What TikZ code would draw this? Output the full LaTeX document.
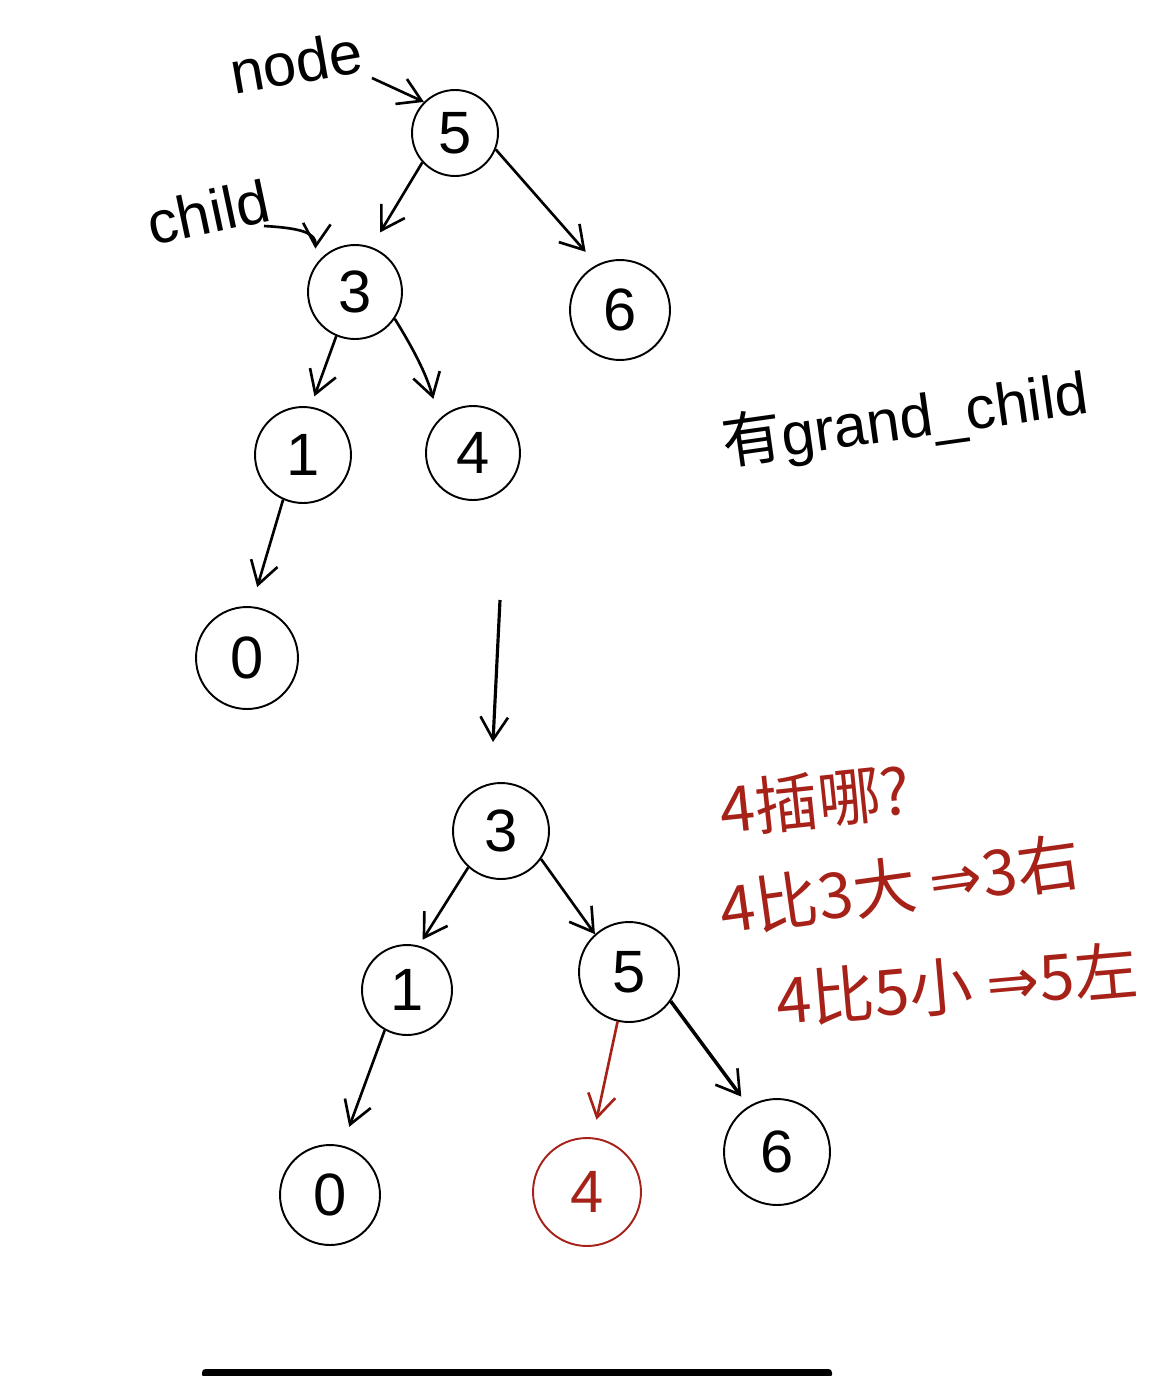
\documentclass[tikz,border=0pt]{standalone}
\usepackage{fontspec}
\setmainfont{Liberation Sans}
\newfontfamily\cjk{Noto Sans CJK SC}
\newfontfamily\symb{DejaVu Sans}
\usepackage{xcolor}
\definecolor{inkred}{RGB}{166,34,24}
\usetikzlibrary{arrows.meta}

\begin{document}
\begin{tikzpicture}[x=0.02cm, y=-0.02cm,
    vert/.style={circle, draw, line width=1.1pt, inner sep=0pt,
      minimum size=#1, font=\fontsize{34}{34}\selectfont},
    vert/.default=1.9cm,
    link/.style={line width=1.5pt,
      -{Straight Barb[length=4.5mm, width=5.5mm, line width=1.5pt]}},
    note/.style={inner sep=0pt, font=\fontsize{34}{40}\selectfont},
    rednote/.style={inner sep=0pt, text=inkred,
      font=\cjk\fontsize{36}{40}\selectfont}]
  \fill[white] (0,0) rectangle (1155,1376);
  \useasboundingbox (0,0) rectangle (1155,1376);

  % tree before
  \node[vert=1.72cm] (t5) at (455,133) {5};
  \node[vert=1.88cm] (t3) at (355,292) {3};
  \node[vert=2.0cm]  (t6) at (620,310) {6};
  \node[vert=1.92cm] (t1) at (303,455) {1};
  \node[vert=1.88cm] (t4) at (473,453) {4};
  \node[vert=2.04cm] (t0) at (247,658) {0};

  \draw[link, shorten >=0.34cm] (t5.222) -- (t3.70);
  \draw[link, shorten >=0.34cm] (t5.-22) -- (t6.117);
  \draw[link, shorten >=0.22cm] (t3.-113) -- (t1.81);
  \draw[link, shorten >=0.42cm] (t3.-34) to[bend left=8] (t4.135);
  \draw[link, shorten >=0.4cm]  (t1.-114) -- (t0.85);

  % labels
  \node[note, rotate=10] (nodelbl) at (296,62) {node};
  \coordinate (nodetail) at (372,78);
  \draw[link] (nodetail) -- (t5.135);
  \node[note, rotate=12] (childlbl) at (208,212) {child};
  \coordinate (childtail) at (264,226);
  \draw[link, shorten >=0.36cm] (childtail) .. controls +(36,2) and +(2,-34) .. (t3.148);
  \node[note, rotate=8] (gclbl) at (905,420) {{\cjk 有}grand\_child};

  % step down
  \coordinate (gap top) at (500,600);
  \coordinate (gap end) at (493,742);
  \draw[link, line width=1.8pt] (gap top) -- (gap end);

  % tree after
  \node[vert=1.92cm] (b3) at (501,831) {3};
  \node[vert=1.8cm]  (b1) at (407,990) {1};
  \node[vert=2.0cm]  (b5) at (629,972) {5};
  \node[vert=2.0cm]  (b0) at (330,1195) {0};
  \node[vert=2.16cm, draw=inkred, text=inkred] (b4) at (587,1192) {4};
  \node[vert=2.12cm] (b6) at (777,1152) {6};

  \draw[link, shorten >=0.14cm] (b3.228) -- (b1.75);
  \draw[link] (b3.-35) -- (b5.132);
  \draw[link, shorten >=0.4cm] (b1.241) -- (b0.76);
  \draw[link, inkred, shorten >=0.36cm] (b5.257) -- (b4.84);
  \draw[link, line width=2pt, shorten >=0.24cm] (b5.-35) -- (b6.122);

  \node[rednote, rotate=6] (ask) at (815,800) {4插哪?};
  \node[rednote, rotate=8] (rule1) at (900,885) {4比3大 {\symb ⇒}3右};
  \node[rednote, rotate=5] (rule2) at (957,985) {4比5小 {\symb ⇒}5左};

  \fill[rounded corners=2pt] (202,1369) rectangle (832,1378);
\end{tikzpicture}
\end{document}
